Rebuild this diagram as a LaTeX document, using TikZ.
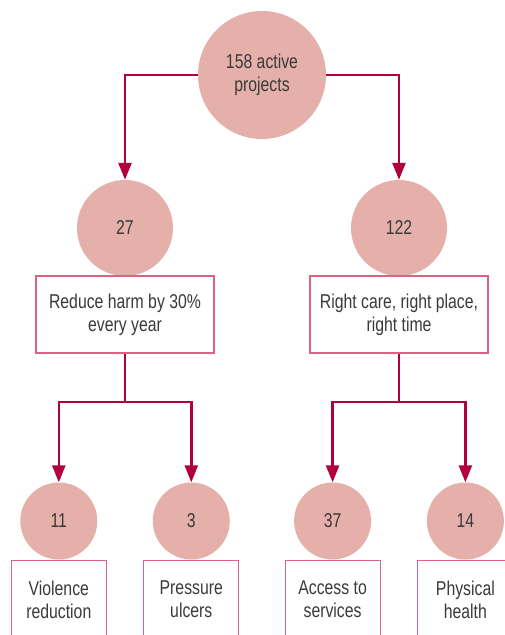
\documentclass[tikz,border=0pt]{standalone}
\usepackage{fontspec}
\setmainfont{Liberation Sans}[FakeStretch=0.79]
\usepackage{tikz}
\usetikzlibrary{arrows.meta}
\definecolor{circlepink}{RGB}{229,176,170}
\definecolor{arrowred}{RGB}{178,0,58}
\definecolor{boxpink}{RGB}{218,98,130}
\definecolor{textgray}{RGB}{58,58,58}
\tikzset{mycircle/.style={circle,fill=circlepink,inner sep=0pt,text=textgray,align=center},
mybox/.style={draw=boxpink,line width=1.1pt,fill=white,rectangle,inner sep=2pt,text=textgray,align=center},
myline/.style={arrowred,line width=2.5pt},
myarrow/.style={myline,-{Triangle[length=17pt,width=13pt]}}}

\begin{document}
\begin{tikzpicture}[x=1pt,y=-1pt,font=\fontsize{20}{23}\selectfont]
\useasboundingbox (0,0) rectangle (505,635);
\clip (0,0) rectangle (505,635);

\node[mycircle,minimum size=128pt] (top) at (262,75) {158 active\\projects};
\node[mycircle,minimum size=96pt] (harmnum) at (125,228) {27};
\node[mycircle,minimum size=96pt] (carenum) at (399,228) {122};
\node[mybox,minimum width=178pt,minimum height=77pt] (harm) at (125,314.5) {Reduce harm by 30\%\\every year};
\node[mybox,minimum width=178pt,minimum height=77pt] (care) at (399,314.5) {Right care, right place,\\right time};

\draw[myarrow] (top.west) -| (harmnum.north);
\draw[myarrow] (top.east) -| (carenum.north);

\foreach \name/\x/\num/\label in {violence/58.8/11/Violence\\reduction,
pressure/191.3/3/Pressure\\ulcers,
access/332.6/37/Access to\\services,
physical/465.4/14/Physical\\health}{
\node[mycircle,minimum size=77pt] (\name num) at (\x,521) {\num};
\node[mybox,minimum width=95pt,minimum height=78pt,anchor=north] (\name) at (\x,560) {\label};
}

\coordinate (harmsplit) at (125,402);
\coordinate (caresplit) at (399,402);
\draw[myline] (harm.south) -- (harmsplit);
\draw[myarrow] (harmsplit) -| (violencenum.north);
\draw[myarrow] (harmsplit) -| (pressurenum.north);
\draw[myline] (care.south) -- (caresplit);
\draw[myarrow] (caresplit) -| (accessnum.north);
\draw[myarrow] (caresplit) -| (physicalnum.north);
\end{tikzpicture}
\end{document}
